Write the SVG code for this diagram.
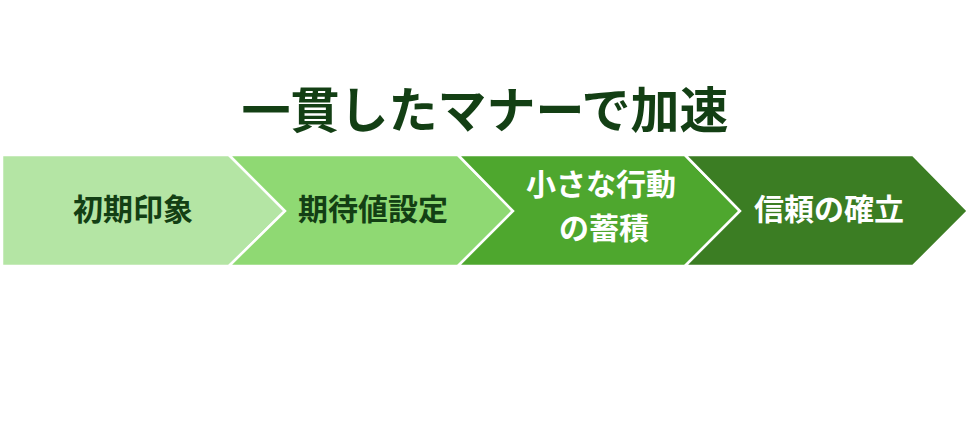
<svg xmlns="http://www.w3.org/2000/svg" width="971" height="421" viewBox="0 0 971 421">
<style>
.t{font-family:"Noto Sans CJK JP","Noto Sans",sans-serif;font-weight:bold;text-anchor:middle;dominant-baseline:central}
.s{stroke:#ffffff;stroke-width:2.5;stroke-linejoin:miter}
.dk{fill:#133f14;font-size:30px}
.wh{fill:#ffffff;font-size:30px}
</style>
<rect width="971" height="421" fill="#ffffff"/>
<text class="t" x="485" y="106" style="font-size:49px;fill:#133f14">一貫したマナーで加速</text>
<g id="step1">
<polygon class="s" points="2,155 229,155 285,211 229,266 2,266" fill="#b4e5a4"/>
<text class="t dk" x="133" y="207">初期印象</text>
</g>
<g id="step2">
<polygon class="s" points="229,155 458,155 513,211 458,266 229,266 285,211" fill="#8fd973"/>
<text class="t dk" x="373" y="207">期待値設定</text>
</g>
<g id="step3">
<polygon class="s" points="458,155 685,155 740,211 685,266 458,266 513,211" fill="#4ea72e"/>
<text class="t wh" x="601" y="182">小さな行動</text>
<text class="t wh" x="604" y="226">の蓄積</text>
</g>
<g id="step4">
<polygon class="s" points="685,155 913,155 968,211 913,266 685,266 740,211" fill="#3b7d23"/>
<text class="t wh" x="829" y="207">信頼の確立</text>
</g>
<g id="connectors"></g>
</svg>
